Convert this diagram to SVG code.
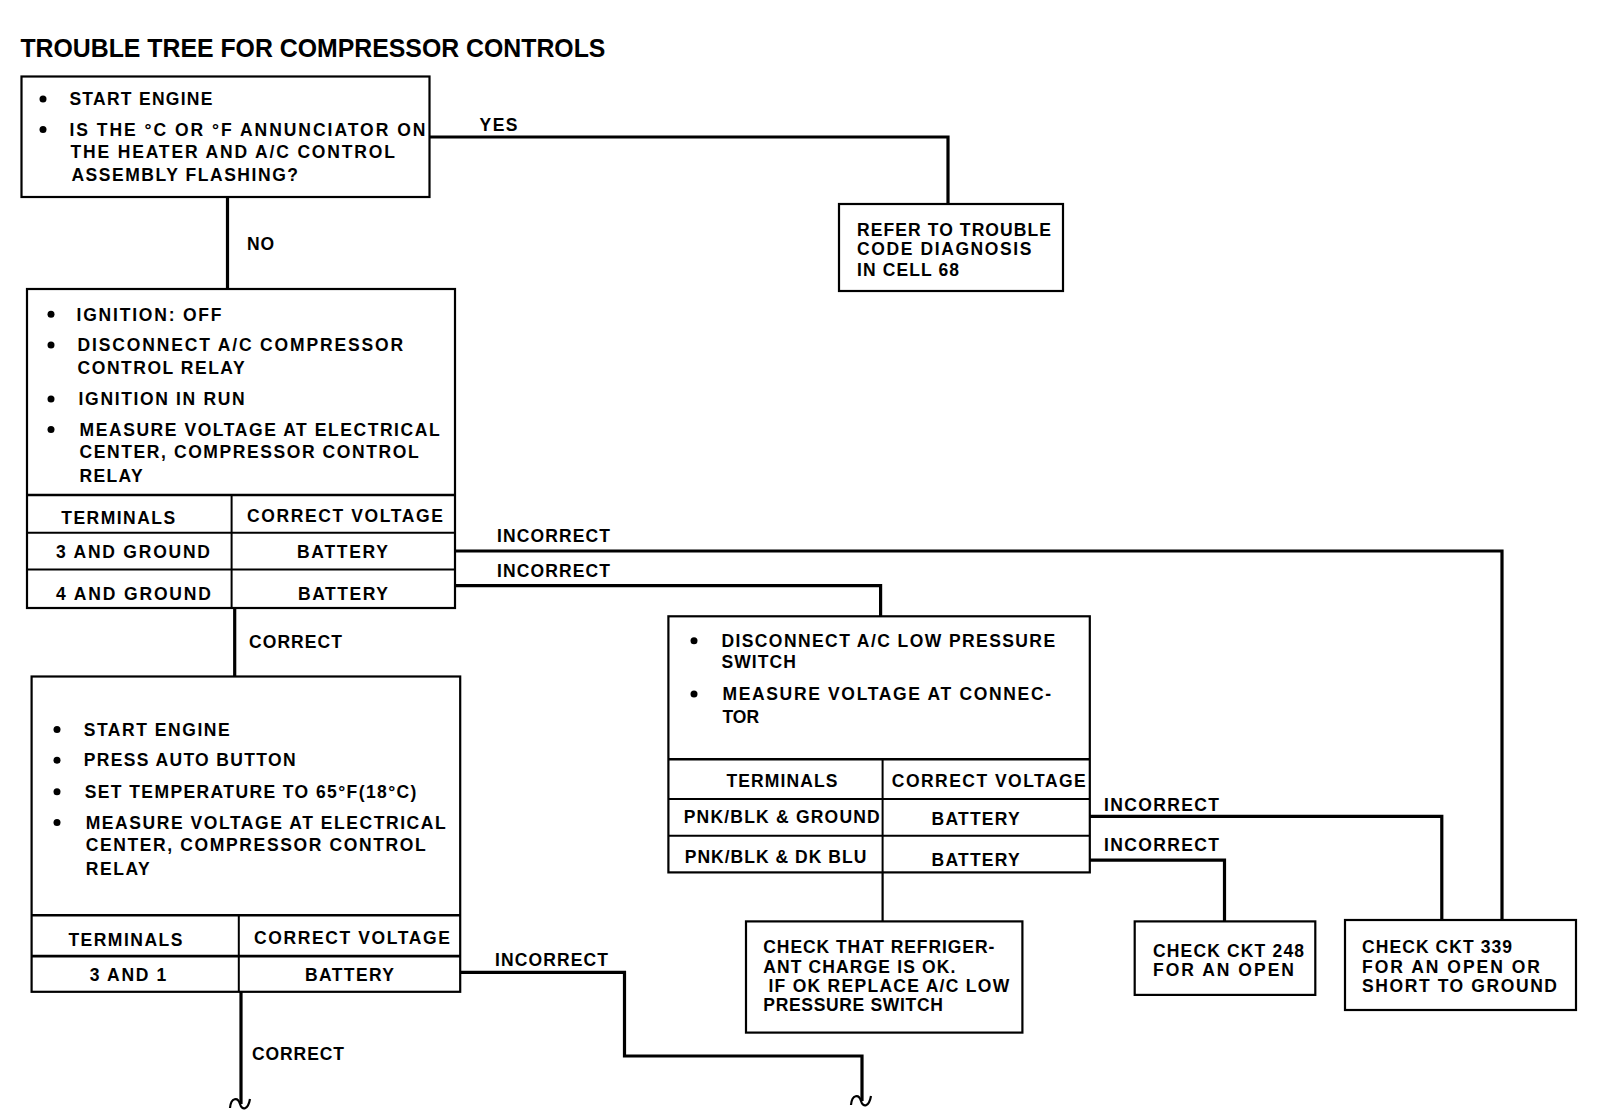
<svg xmlns="http://www.w3.org/2000/svg" width="1600" height="1116" viewBox="0 0 1600 1116">
<defs>
<style>
text{font-family:"Liberation Sans",Arial,Helvetica,sans-serif;font-weight:bold;font-size:17.5px;letter-spacing:1px;fill:#000}
.title{font-size:25.5px;letter-spacing:0}
.box{fill:#fff;stroke:#000;stroke-width:2.2}
.tl{fill:none;stroke:#000;stroke-width:2}
.conn{fill:none;stroke:#000;stroke-width:3.2}
.sq{fill:none;stroke:#000;stroke-width:2.2}
.dot{fill:#000}
</style>
<path id="squig" d="M-11,4 C-10,-7 -3,-7 -1,0 C1,7 7,6 9,-5"/>
</defs>
<rect width="1600" height="1116" fill="#fff"/>
<text class="title" x="20.4" y="57" textLength="585" lengthAdjust="spacingAndGlyphs">TROUBLE TREE FOR COMPRESSOR CONTROLS</text>

<g id="connectors">
<path class="conn" d="M430,137 H948 V204"/>
<path class="conn" d="M227.5,197 V289"/>
<path class="conn" d="M455,551 H1502 V920"/>
<path class="conn" d="M455,585.7 H880.6 V616.3"/>
<path class="conn" d="M234.7,608 V676.5"/>
<path class="conn" d="M460,972.4 H624.5 V1056 H862 V1101"/>
<path class="conn" d="M241,991.8 V1104"/>
<use href="#squig" class="sq" x="862" y="1101"/>
<use href="#squig" class="sq" x="241" y="1104"/>
<path class="conn" d="M1090,816.3 H1441.8 V920"/>
<path class="conn" d="M1090,860.2 H1224.5 V921.4"/>
<path class="conn" d="M882.6,872.4 V921.4" style="stroke-width:2.2"/>
<text x="479.6" y="131.2" textLength="38.8">YES</text>
<text x="247" y="249.6" textLength="28">NO</text>
<text x="497" y="542.4" textLength="114">INCORRECT</text>
<text x="497" y="577.1" textLength="114">INCORRECT</text>
<text x="249" y="647.5" textLength="94">CORRECT</text>
<text x="495" y="965.9" textLength="114">INCORRECT</text>
<text x="252" y="1059.7" textLength="93">CORRECT</text>
<text x="1104" y="810.8" textLength="116">INCORRECT</text>
<text x="1104" y="850.6" textLength="116">INCORRECT</text>
</g>

<g id="start">
<rect class="box" x="21.5" y="76.5" width="408" height="120.5"/>
<circle class="dot" cx="43" cy="99" r="3.5"/>
<circle class="dot" cx="43" cy="129.6" r="3.5"/>
<text x="69.4" y="105.2" textLength="144">START ENGINE</text>
<text x="69.4" y="135.8" textLength="357">IS THE °C OR °F ANNUNCIATOR ON</text>
<text x="70.4" y="158.2" textLength="325.6">THE HEATER AND A/C CONTROL</text>
<text x="71.4" y="180.7" textLength="227.6">ASSEMBLY FLASHING?</text>
</g>

<g id="refer">
<rect class="box" x="839" y="204" width="224" height="87"/>
<text x="857" y="235.8" textLength="195">REFER TO TROUBLE</text>
<text x="857" y="255.2" textLength="175.5">CODE DIAGNOSIS</text>
<text x="857" y="275.5" textLength="103">IN CELL 68</text>
</g>

<g id="relay-check">
<rect class="box" x="27" y="289" width="428" height="319"/>
<line class="tl" x1="27" y1="495" x2="455" y2="495" style="stroke-width:2.6"/>
<line class="tl" x1="231.6" y1="495" x2="231.6" y2="608"/>
<line class="tl" x1="27" y1="532.7" x2="455" y2="532.7"/>
<line class="tl" x1="27" y1="569.4" x2="455" y2="569.4"/>
<circle class="dot" cx="51" cy="314.3" r="3.5"/>
<circle class="dot" cx="51" cy="344.9" r="3.5"/>
<circle class="dot" cx="51" cy="399" r="3.5"/>
<circle class="dot" cx="51" cy="429.6" r="3.5"/>
<text x="76.5" y="320.5" textLength="146">IGNITION: OFF</text>
<text x="77.6" y="351.1" textLength="326.5">DISCONNECT A/C COMPRESSOR</text>
<text x="77.6" y="373.5" textLength="168">CONTROL RELAY</text>
<text x="78.6" y="405.2" textLength="167">IGNITION IN RUN</text>
<text x="79.6" y="435.8" textLength="361">MEASURE VOLTAGE AT ELECTRICAL</text>
<text x="79.6" y="458.2" textLength="340">CENTER, COMPRESSOR CONTROL</text>
<text x="79.6" y="481.7" textLength="64">RELAY</text>
<text x="61.2" y="523.5" textLength="115">TERMINALS</text>
<text x="247" y="521.5" textLength="197">CORRECT VOLTAGE</text>
<text x="56" y="558.2" textLength="155">3 AND GROUND</text>
<text x="297" y="558.2" textLength="92">BATTERY</text>
<text x="56" y="600.1" textLength="156">4 AND GROUND</text>
<text x="298" y="600.1" textLength="91">BATTERY</text>
</g>

<g id="auto-check">
<rect class="box" x="31.6" y="676.5" width="428.6" height="315.3"/>
<line class="tl" x1="31.6" y1="915.3" x2="460.2" y2="915.3" style="stroke-width:2.6"/>
<line class="tl" x1="238.8" y1="915.3" x2="238.8" y2="991.8"/>
<line class="tl" x1="31.6" y1="956.1" x2="460.2" y2="956.1" style="stroke-width:2.6"/>
<circle class="dot" cx="57" cy="729.6" r="3.5"/>
<circle class="dot" cx="57" cy="760.2" r="3.5"/>
<circle class="dot" cx="57" cy="791.8" r="3.5"/>
<circle class="dot" cx="57" cy="822.4" r="3.5"/>
<text x="83.7" y="735.8" textLength="147">START ENGINE</text>
<text x="83.7" y="766.4" textLength="213">PRESS AUTO BUTTON</text>
<text x="84.7" y="798" textLength="332.7">SET TEMPERATURE TO 65°F(18°C)</text>
<text x="85.7" y="828.6" textLength="361">MEASURE VOLTAGE AT ELECTRICAL</text>
<text x="85.7" y="851.1" textLength="341">CENTER, COMPRESSOR CONTROL</text>
<text x="85.7" y="874.6" textLength="65">RELAY</text>
<text x="68.4" y="946" textLength="115">TERMINALS</text>
<text x="254" y="943.9" textLength="197">CORRECT VOLTAGE</text>
<text x="89.8" y="980.7" textLength="77.5">3 AND 1</text>
<text x="305" y="980.7" textLength="90">BATTERY</text>
</g>

<g id="low-pressure-check">
<rect class="box" x="668.4" y="616.3" width="421.4" height="256.1"/>
<line class="tl" x1="668.4" y1="759.2" x2="1089.8" y2="759.2" style="stroke-width:2.6"/>
<line class="tl" x1="882.6" y1="759.2" x2="882.6" y2="872.4"/>
<line class="tl" x1="668.4" y1="799" x2="1089.8" y2="799"/>
<line class="tl" x1="668.4" y1="835.7" x2="1089.8" y2="835.7"/>
<circle class="dot" cx="694" cy="640.8" r="3.5"/>
<circle class="dot" cx="694" cy="693.9" r="3.5"/>
<text x="721.4" y="647" textLength="334.7">DISCONNECT A/C LOW PRESSURE</text>
<text x="721.4" y="668.4" textLength="75.5">SWITCH</text>
<text x="722.4" y="700.1" textLength="329.6">MEASURE VOLTAGE AT CONNEC-</text>
<text x="722.4" y="722.5" textLength="37.8">TOR</text>
<text x="726.5" y="786.8" textLength="112">TERMINALS</text>
<text x="891.8" y="786.8" textLength="195">CORRECT VOLTAGE</text>
<text x="683.7" y="822.5" textLength="197">PNK/BLK &amp; GROUND</text>
<text x="931.6" y="824.6" textLength="89">BATTERY</text>
<text x="684.7" y="863.3" textLength="182.6">PNK/BLK &amp; DK BLU</text>
<text x="931.6" y="866.4" textLength="89">BATTERY</text>
</g>

<g id="refrigerant">
<rect class="box" x="746" y="921.4" width="276.4" height="111.2"/>
<text x="763.3" y="953.2" textLength="232">CHECK THAT REFRIGER-</text>
<text x="763.3" y="972.5" textLength="193">ANT CHARGE IS OK.</text>
<text x="768.4" y="991.9" textLength="241.8">IF OK REPLACE A/C LOW</text>
<text x="763.3" y="1011.3" textLength="180.6">PRESSURE SWITCH</text>
</g>

<g id="ckt248">
<rect class="box" x="1134.7" y="921.4" width="180.6" height="73.5"/>
<text x="1153" y="957.2" textLength="152">CHECK CKT 248</text>
<text x="1153" y="975.6" textLength="142">FOR AN OPEN</text>
</g>

<g id="ckt339">
<rect class="box" x="1345" y="920" width="231" height="90"/>
<text x="1362" y="953" textLength="151">CHECK CKT 339</text>
<text x="1362" y="972.5" textLength="179">FOR AN OPEN OR</text>
<text x="1362" y="991.9" textLength="196">SHORT TO GROUND</text>
</g>
</svg>
